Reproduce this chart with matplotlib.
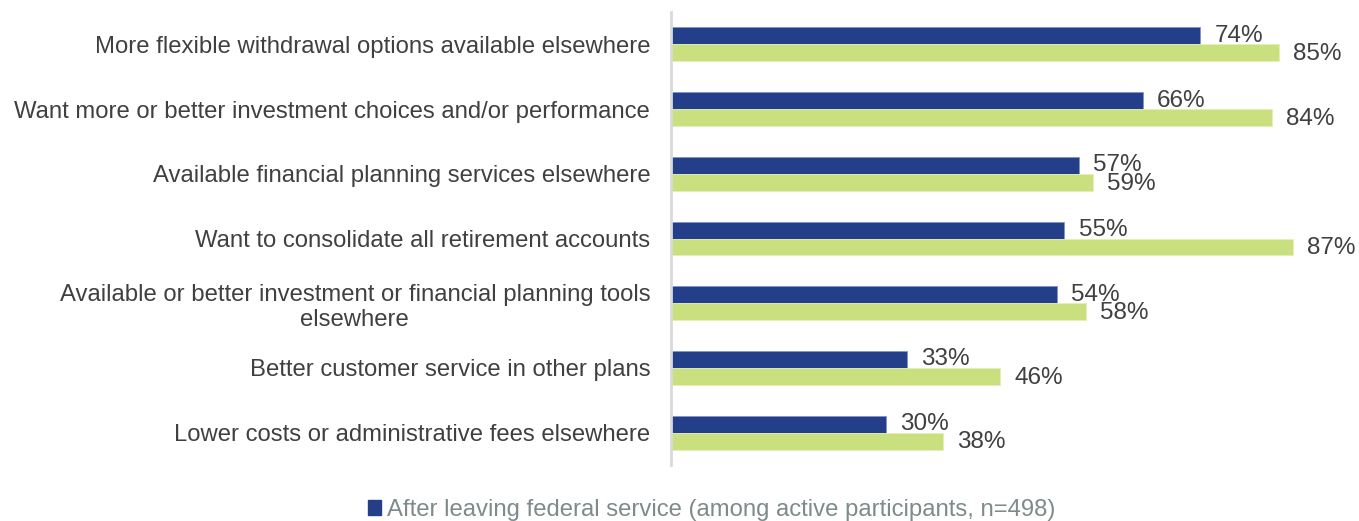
import matplotlib
matplotlib.use("Agg")
import matplotlib.pyplot as plt
from matplotlib.patches import Patch

plt.rcParams['font.family'] = ['Liberation Sans', 'DejaVu Sans']

categories = [
    "More flexible withdrawal options available elsewhere",
    "Want more or better investment choices and/or performance",
    "Available financial planning services elsewhere",
    "Want to consolidate all retirement accounts",
    "Available or better investment or financial planning tools\nelsewhere",
    "Better customer service in other plans",
    "Lower costs or administrative fees elsewhere",
]
after_leaving = [74, 66, 57, 55, 54, 33, 30]
other_series = [85, 84, 59, 87, 58, 46, 38]
legend_label = "After leaving federal service (among active participants, n=498)"

navy = "#243f8a"
green = "#cadf7e"
text_col = "#404040"

W, H = 1359, 521
fig = plt.figure(figsize=(W / 100, H / 100), dpi=100)
ax = fig.add_axes([671 / W, 1 - 465 / H, 1 - 671 / W, (465 - 12) / H])

n = len(categories)
ys = list(range(n))
h = 0.262
ax.barh([y - h / 2 for y in ys], after_leaving, height=h, color=navy, edgecolor="#7f95c8", linewidth=0.6)
ax.barh([y + h / 2 for y in ys], other_series, height=h, color=green, edgecolor="#e4efb8", linewidth=0.6)

ax.set_xlim(0, (W - 671) / 7.15)
ax.set_ylim(n - 0.5, -0.5)

for y, v in zip(ys, after_leaving):
    ax.text(v + 2.0, y - h / 2, f"{v}%", va="center", ha="left", fontsize=17.5, color=text_col)
for y, v in zip(ys, other_series):
    ax.text(v + 2.0, y + h / 2 + 0.02, f"{v}%", va="center", ha="left", fontsize=17.5, color=text_col)

ax.set_yticks(ys)
ax.set_yticklabels(categories, fontsize=17.2, color=text_col, multialignment="center")
ax.tick_params(axis="y", length=0, pad=15)
ax.set_xticks([])
for s in ["top", "right", "bottom"]:
    ax.spines[s].set_visible(False)
ax.spines["left"].set_color("#d9d9d9")
ax.spines["left"].set_linewidth(2)

fig.legend(handles=[Patch(facecolor=navy, edgecolor=navy)], labels=[legend_label],
           loc="center", bbox_to_anchor=(712 / W, 1 - 510 / H), frameon=False,
           fontsize=17.2, labelcolor="#7f8a8a", handlelength=0.55, handleheight=0.6,
           handletextpad=0.25)

fig.savefig("out.png", dpi=100)
